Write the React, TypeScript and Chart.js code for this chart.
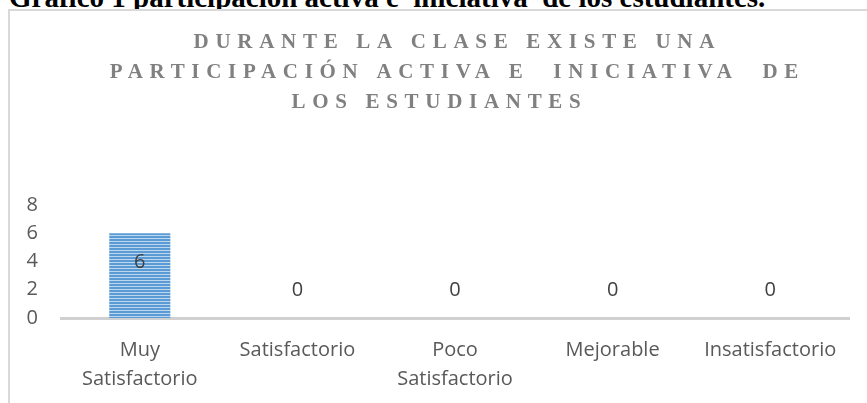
import React, { useEffect, useRef } from "react";
import { Chart, registerables } from "chart.js";

Chart.register(...registerables);

const headerText = "Gráfico 1 participación activa e  iniciativa  de los estudiantes.";
const titleLines = [
  "DURANTE LA CLASE EXISTE UNA",
  "PARTICIPACIÓN ACTIVA E  INICIATIVA  DE",
  "LOS ESTUDIANTES   ",
];
const categories: (string | string[])[] = [
  ["Muy", "Satisfactorio"],
  "Satisfactorio",
  ["Poco", "Satisfactorio"],
  "Mejorable",
  "Insatisfactorio",
];
const values = [6, 0, 0, 0, 0];
const yTicks = { min: 0, max: 8, step: 2 };

const FONT = '"Open Sans"';

function makeStripePattern(): CanvasPattern | string {
  const c = document.createElement("canvas");
  c.width = 4;
  c.height = 3;
  const g = c.getContext("2d");
  if (!g) return "#5b9bd5";
  g.fillStyle = "#bdd7ee";
  g.fillRect(0, 0, 4, 3);
  g.fillStyle = "#5b9bd5";
  g.fillRect(0, 0, 4, 2);
  const p = g.createPattern(c, "repeat");
  return p || "#5b9bd5";
}

export default function App() {
  const ref = useRef<HTMLCanvasElement | null>(null);

  useEffect(() => {
    const canvas = ref.current;
    if (!canvas) return;

    const titlePlugin = {
      id: "spacedTitle",
      afterDraw(chart: any) {
        const ctx = chart.ctx as CanvasRenderingContext2D;
        ctx.save();
        ctx.font = 'bold 21px "Liberation Serif"';
        const spacing = 6.7;
        (ctx as any).letterSpacing = spacing + "px";
        ctx.fillStyle = "#808080";
        ctx.textAlign = "center";
        ctx.textBaseline = "alphabetic";
        const cx = 444 + spacing / 2;
        titleLines.forEach((line, i) => {
          ctx.fillText(line, cx, 37 + i * 30);
        });
        ctx.restore();
      },
    };

    const labelPlugin = {
      id: "barLabels",
      afterDatasetsDraw(chart: any) {
        const ctx = chart.ctx as CanvasRenderingContext2D;
        const meta = chart.getDatasetMeta(0);
        ctx.save();
        ctx.font = "20px " + FONT;
        ctx.fillStyle = "#404040";
        ctx.textAlign = "center";
        ctx.textBaseline = "middle";
        meta.data.forEach((el: any, i: number) => {
          const v = values[i];
          const y = v > 0 ? el.y + 29 : el.y - 28;
          ctx.fillText(String(v), el.x, y);
        });
        ctx.restore();
      },
    };

    const chart = new Chart(canvas, {
      type: "bar",
      data: {
        labels: categories as any,
        datasets: [
          {
            data: values,
            backgroundColor: makeStripePattern() as any,
            borderWidth: 0,
            categoryPercentage: 1,
            barPercentage: 0.3876,
          },
        ],
      },
      options: {
        responsive: false,
        animation: false,
        layout: { padding: { top: 194, left: 0, right: 18, bottom: 0 } },
        plugins: {
          legend: { display: false },
          title: { display: false },
          tooltip: { enabled: false },
        },
        scales: {
          x: {
            grid: { display: false, drawTicks: false },
            border: { display: true, color: "#d0d0d0", width: 3 },
            ticks: {
              color: "#595959",
              font: { family: "Open Sans", size: 20, lineHeight: 1.45 },
              padding: 18,
              maxRotation: 0,
              autoSkip: false,
            },
            afterFit(scale: any) {
              scale.height = 85;
            },
          },
          y: {
            min: yTicks.min,
            max: yTicks.max,
            grid: { display: false, drawTicks: false },
            border: { display: false },
            ticks: {
              stepSize: yTicks.step,
              color: "#595959",
              font: { family: "Open Sans", size: 20 },
              padding: 23,
            },
            afterFit(scale: any) {
              scale.width = 51;
            },
          },
        },
      },
      plugins: [titlePlugin, labelPlugin],
    });

    return () => chart.destroy();
  }, []);

  return (
    <div
      style={{
        position: "fixed",
        left: 0,
        top: 0,
        width: 867,
        height: 403,
        overflow: "hidden",
        background: "#ffffff",
      }}
    >
      <div
        style={{
          position: "absolute",
          left: 9,
          top: -17,
          font: 'bold 29px "Liberation Serif"',
          lineHeight: "29px",
          whiteSpace: "pre",
          color: "#000000",
        }}
      >
        {headerText}
      </div>
      <div
        style={{
          position: "absolute",
          left: 8,
          top: 9,
          width: 859,
          height: 394,
          borderTop: "2px solid #d9d9d9",
          borderLeft: "2px solid #d9d9d9",
          boxSizing: "border-box",
          background: "#ffffff",
        }}
      >
        <canvas
          ref={ref}
          width={857}
          height={392}
          style={{ display: "block", width: 857, height: 392 }}
        />
      </div>
    </div>
  );
}
